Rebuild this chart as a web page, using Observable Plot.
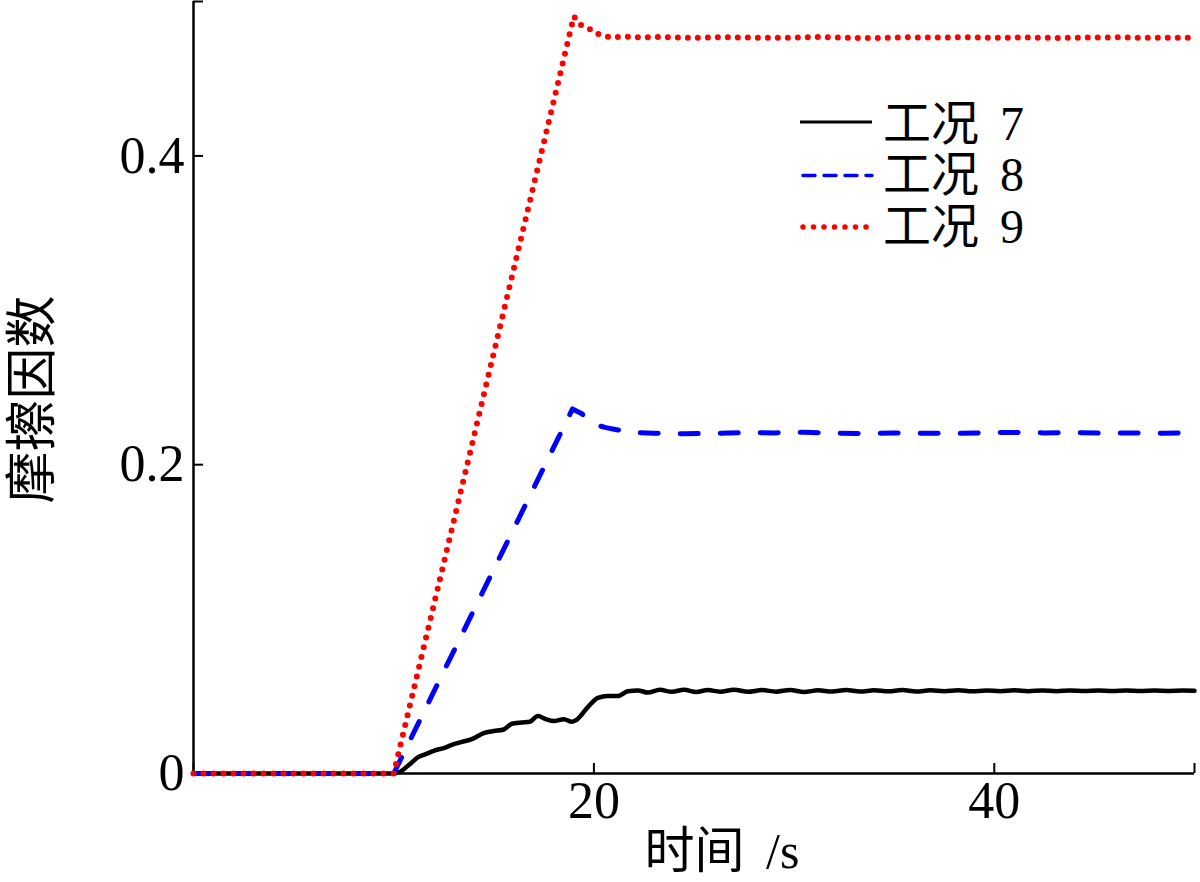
<!DOCTYPE html>
<html>
<head>
<meta charset="utf-8">
<script src="https://cdn.jsdelivr.net/npm/d3@7"></script>
<script src="https://cdn.jsdelivr.net/npm/@observablehq/plot@0.6"></script>
<style>
  html, body { margin: 0; padding: 0; background: #fff; }
  #wrap { position: relative; width: 1200px; height: 882px; overflow: hidden; }
  #legend { position: absolute; left: 0; top: 0; pointer-events: none; }
  #wrap text { word-spacing: 9px; }
</style>
</head>
<body>
<div id="wrap"></div>
<script>
// ---- data ----
const seriesNames = ["工况 7", "工况 8", "工况 9"];
const seriesColors = ["#000000", "#0000ff", "#ff0000"];

const t7 = [0, 10, 10.3, 10.8, 11.2, 11.6, 12.0, 12.5, 13.0, 13.4, 13.9, 14.5, 15.0, 15.5, 15.9, 16.4, 16.8, 17.2, 17.6, 18.0, 18.5, 18.9, 19.1, 19.7, 20.2, 20.7, 21.2, 21.7, 22.2, 22.7, 23.3, 23.9, 24.5, 25.1, 25.7, 26.3, 27.0, 27.7, 28.4, 29.1, 29.8, 30.5, 31.2, 31.9, 32.6, 33.3, 34.0, 34.7, 35.4, 36.1, 36.8, 37.5, 38.2, 38.9, 39.6, 40.3, 41.0, 41.7, 42.4, 43.1, 43.8, 44.5, 45.2, 45.9, 46.6, 47.3, 48.0, 48.7, 49.4, 50];
const f7 = [0, 0, 0.0010, 0.0060, 0.0104, 0.0125, 0.0147, 0.0165, 0.0190, 0.0205, 0.0222, 0.0262, 0.0275, 0.0285, 0.0322, 0.0330, 0.0335, 0.0372, 0.0352, 0.0340, 0.0352, 0.0335, 0.0345, 0.0430, 0.0490, 0.0502, 0.0502, 0.0533, 0.0538, 0.0524, 0.0542, 0.0529, 0.0543, 0.0528, 0.0540, 0.0530, 0.0542, 0.0529, 0.0540, 0.0530, 0.0541, 0.0528, 0.0539, 0.0531, 0.0540, 0.0531, 0.0539, 0.0532, 0.0540, 0.0531, 0.0539, 0.0533, 0.0539, 0.0532, 0.0538, 0.0533, 0.0539, 0.0533, 0.0538, 0.0533, 0.0538, 0.0534, 0.0538, 0.0534, 0.0537, 0.0534, 0.0537, 0.0535, 0.0537, 0.0536];

const t8 = [0, 10, 18.93, 19.4, 20.0, 20.6, 21.2, 21.8, 23, 24.5, 26, 27.5, 29, 30.5, 32, 33.5, 35, 36.5, 38, 39.5, 41, 42.5, 44, 45.5, 47, 48.5, 50];
const f8 = [0, 0, 0.2361, 0.2330, 0.2262, 0.2240, 0.2225, 0.2210, 0.2204, 0.2200, 0.2203, 0.2207, 0.2206, 0.2210, 0.2205, 0.2202, 0.2206, 0.2204, 0.2202, 0.2207, 0.2209, 0.2206, 0.2207, 0.2204, 0.2206, 0.2203, 0.2208];

const t9 = [0, 10, 19.0, 19.3, 19.7, 20.0, 20.4, 20.8, 21.5, 22.5, 23.5, 24.5, 25.5, 26.5, 28, 29.5, 31, 32.5, 34, 35.5, 37, 38.5, 40, 41.5, 43, 44.5, 46, 47.5, 49, 50];
const f9 = [0, 0, 0.4904, 0.4850, 0.4833, 0.4797, 0.4784, 0.4768, 0.4772, 0.4768, 0.4770, 0.4765, 0.4766, 0.4769, 0.4766, 0.4764, 0.4770, 0.4765, 0.4763, 0.4768, 0.4766, 0.4769, 0.4765, 0.4767, 0.4764, 0.4766, 0.4768, 0.4765, 0.4766, 0.4764];

const xTicks = [0, 20, 40, 50];
const xTickLabels = [20, 40];
const yTicks = [0, 0.2, 0.4, 0.5];
const yTickLabels = [0, 0.2, 0.4];
const xLabel = "时间 /s";
const yLabel = "摩擦因数";

// ---- build tables ----
const d7 = t7.map((t, i) => ({t, f: f7[i]}));
const d8 = t8.map((t, i) => ({t, f: f8[i]}));
const d9 = t9.map((t, i) => ({t, f: f9[i]}));

const W = 1200, H = 882;
const mL = 193, mR = 6, mT = 1, mB = 109;
const innerW = W - mL - mR, innerH = H - mT - mB;
const FONT = "'Liberation Serif', 'Noto Sans CJK SC', serif";

const chart = Plot.plot({
  width: W,
  height: H,
  marginLeft: mL,
  marginRight: mR,
  marginTop: mT,
  marginBottom: mB,
  style: {fontFamily: FONT, fontSize: "52px", color: "#000", background: "#fff", overflow: "visible"},
  x: {domain: [0, 50]},
  y: {domain: [0, 0.5]},
  marks: [
    // axis lines
    Plot.ruleY([0], {stroke: "#000", strokeWidth: 2.5}),
    Plot.ruleX([0], {stroke: "#000", strokeWidth: 2.5}),
    // inward ticks
    Plot.ruleX(xTicks, {x: d => d, stroke: "#000", strokeWidth: 2, insetTop: innerH - 10}),
    Plot.ruleY(yTicks, {y: d => d, stroke: "#000", strokeWidth: 2, insetRight: innerW - 10}),
    Plot.axisX(xTickLabels, {tickSize: 0, tickPadding: 8, fontSize: 52, fontFamily: FONT, label: null}),
    Plot.axisY(yTickLabels, {tickSize: 0, tickPadding: 9, fontSize: 52, fontFamily: FONT, label: null,
      tickFormat: d => d === 0 ? "0" : d.toFixed(1)}),
    // axis titles
    Plot.text([xLabel], {text: d => d, frameAnchor: "bottom", lineAnchor: "middle", textAnchor: "middle",
      dx: 28, dy: 78, fontSize: 50, fontFamily: FONT}),
    Plot.text([yLabel], {text: d => d, frameAnchor: "left", lineAnchor: "middle", textAnchor: "middle",
      rotate: -90, dx: -160, dy: 12, fontSize: 52, fontFamily: FONT}),
    // series
    Plot.line(d7, {x: "t", y: "f", stroke: seriesColors[0], strokeWidth: 4.5, curve: "monotone-x",
      strokeLinejoin: "round", strokeLinecap: "round"}),
    Plot.line(d8, {x: "t", y: "f", stroke: seriesColors[1], strokeWidth: 5, strokeDasharray: "18,22",
      strokeLinecap: "round", strokeLinejoin: "round"}),
    Plot.line(d9, {x: "t", y: "f", stroke: seriesColors[2], strokeWidth: 6, strokeDasharray: "0,10",
      strokeLinecap: "round", strokeLinejoin: "round"})
  ]
});

const wrap = document.getElementById("wrap");
wrap.appendChild(chart);

// ---- legend (inside plot area, upper right) ----
const legendDash = [null, "12,9", "0,10.5"];
const legendWidth = [3, 3.5, 5.5];
const leg = d3.select(wrap).append("svg")
  .attr("id", "legend")
  .attr("width", W).attr("height", H);
const rowY = [123, 174.5, 226];
seriesNames.forEach((name, i) => {
  const g = leg.append("g");
  g.append("line")
    .attr("x1", i === 0 ? 800 : 803).attr("x2", 872)
    .attr("y1", rowY[i] - (i === 0 ? 1 : -1)).attr("y2", rowY[i] - (i === 0 ? 1 : -1))
    .attr("stroke", seriesColors[i])
    .attr("stroke-width", legendWidth[i])
    .attr("stroke-linecap", i === 0 ? "butt" : "round")
    .attr("stroke-dasharray", legendDash[i]);
  g.append("text")
    .attr("x", 883).attr("y", rowY[i])
    .attr("dominant-baseline", "central")
    .attr("font-family", FONT)
    .attr("font-size", 48)
    .attr("fill", "#000")
    .text(name);
});
</script>
</body>
</html>
